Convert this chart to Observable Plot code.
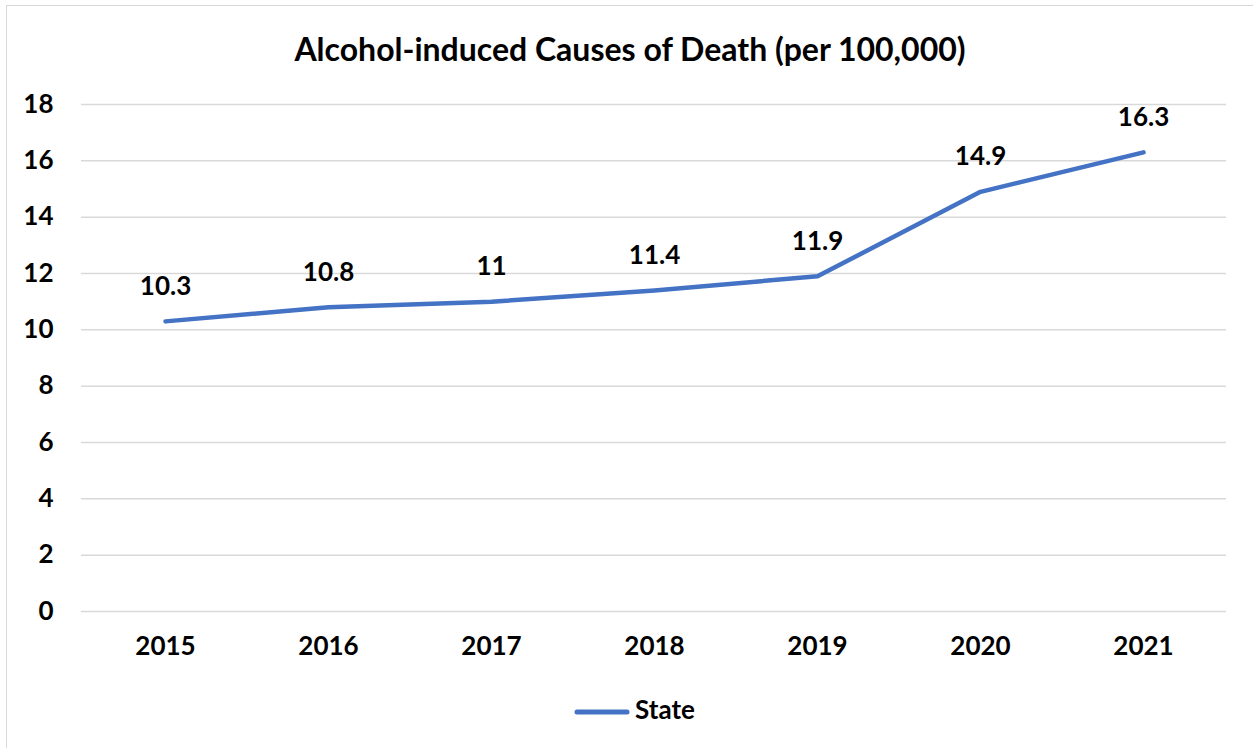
<!DOCTYPE html>
<html>
<head>
<meta charset="utf-8">
<script src="https://cdn.jsdelivr.net/npm/d3@7"></script>
<script src="https://cdn.jsdelivr.net/npm/@observablehq/plot@0.6"></script>
<style>
  body { margin: 0; background: #fff; font-family: Lato, "Open Sans", sans-serif; }
  #wrap { position: relative; width: 1253px; height: 748px; overflow: hidden; background: #fff; }
  #frame { position: absolute; left: 6px; top: 5px; width: 1260px; height: 760px; border: 1.5px solid #d9d9d9; box-sizing: border-box; }
  #title { position: absolute; left: 0; top: 29px; width: 1260px; text-align: center; font-weight: 700; font-size: 32px; color: #000; line-height: 40px; }
  #chart { position: absolute; left: 0; top: 0; }
  #legend { position: absolute; left: 0; top: 693px; width: 1268px; text-align: center; font-weight: 700; font-size: 26px; line-height: 32px; color: #000; }
  #legend svg { vertical-align: middle; margin-right: 4px; }
</style>
</head>
<body>
<div id="wrap">
  <div id="frame"></div>
  <div id="title">Alcohol-induced Causes of Death (per 100,000)</div>
  <div id="chart"></div>
  <div id="legend"></div>
</div>
<script>
const years = ["2015", "2016", "2017", "2018", "2019", "2020", "2021"];
const values = [10.3, 10.8, 11, 11.4, 11.9, 14.9, 16.3];
const yTicks = [0, 2, 4, 6, 8, 10, 12, 14, 16, 18];
const seriesName = "State";
const lineColor = "#4472C4";

const data = years.map((y, i) => ({year: y, value: values[i]}));

const plot = Plot.plot({
  width: 1253,
  height: 680,
  marginLeft: 81,
  marginRight: 27,
  marginTop: 104,
  marginBottom: 69,
  style: {fontFamily: "Lato, 'Open Sans', sans-serif", fontSize: "26px", fontWeight: 700, color: "#000", background: "transparent"},
  x: {type: "point", domain: years, padding: 0.5, label: null},
  y: {domain: [0, 18], label: null},
  marks: [
    Plot.ruleY(yTicks, {stroke: "#d9d9d9", strokeWidth: 1.5}),
    Plot.axisY({ticks: yTicks, tickSize: 0, tickPadding: 28, label: null, fontWeight: 700, fontSize: 26}),
    Plot.axisX({tickSize: 0, tickPadding: 25, label: null, fontWeight: 700, fontSize: 26}),
    Plot.line(data, {x: "year", y: "value", stroke: lineColor, strokeWidth: 4.5, strokeLinecap: "round", strokeLinejoin: "round"}),
    Plot.text(data, {x: "year", y: "value", text: d => String(d.value), dy: -35, fontWeight: 700, fontSize: 26, fill: "#000"})
  ]
});
document.getElementById("chart").appendChild(plot);

const legend = document.getElementById("legend");
legend.innerHTML = `<svg width="58" height="12"><line x1="4" y1="6" x2="54" y2="6" stroke="${lineColor}" stroke-width="5" stroke-linecap="round"/></svg><span>${seriesName}</span>`;
</script>
</body>
</html>
